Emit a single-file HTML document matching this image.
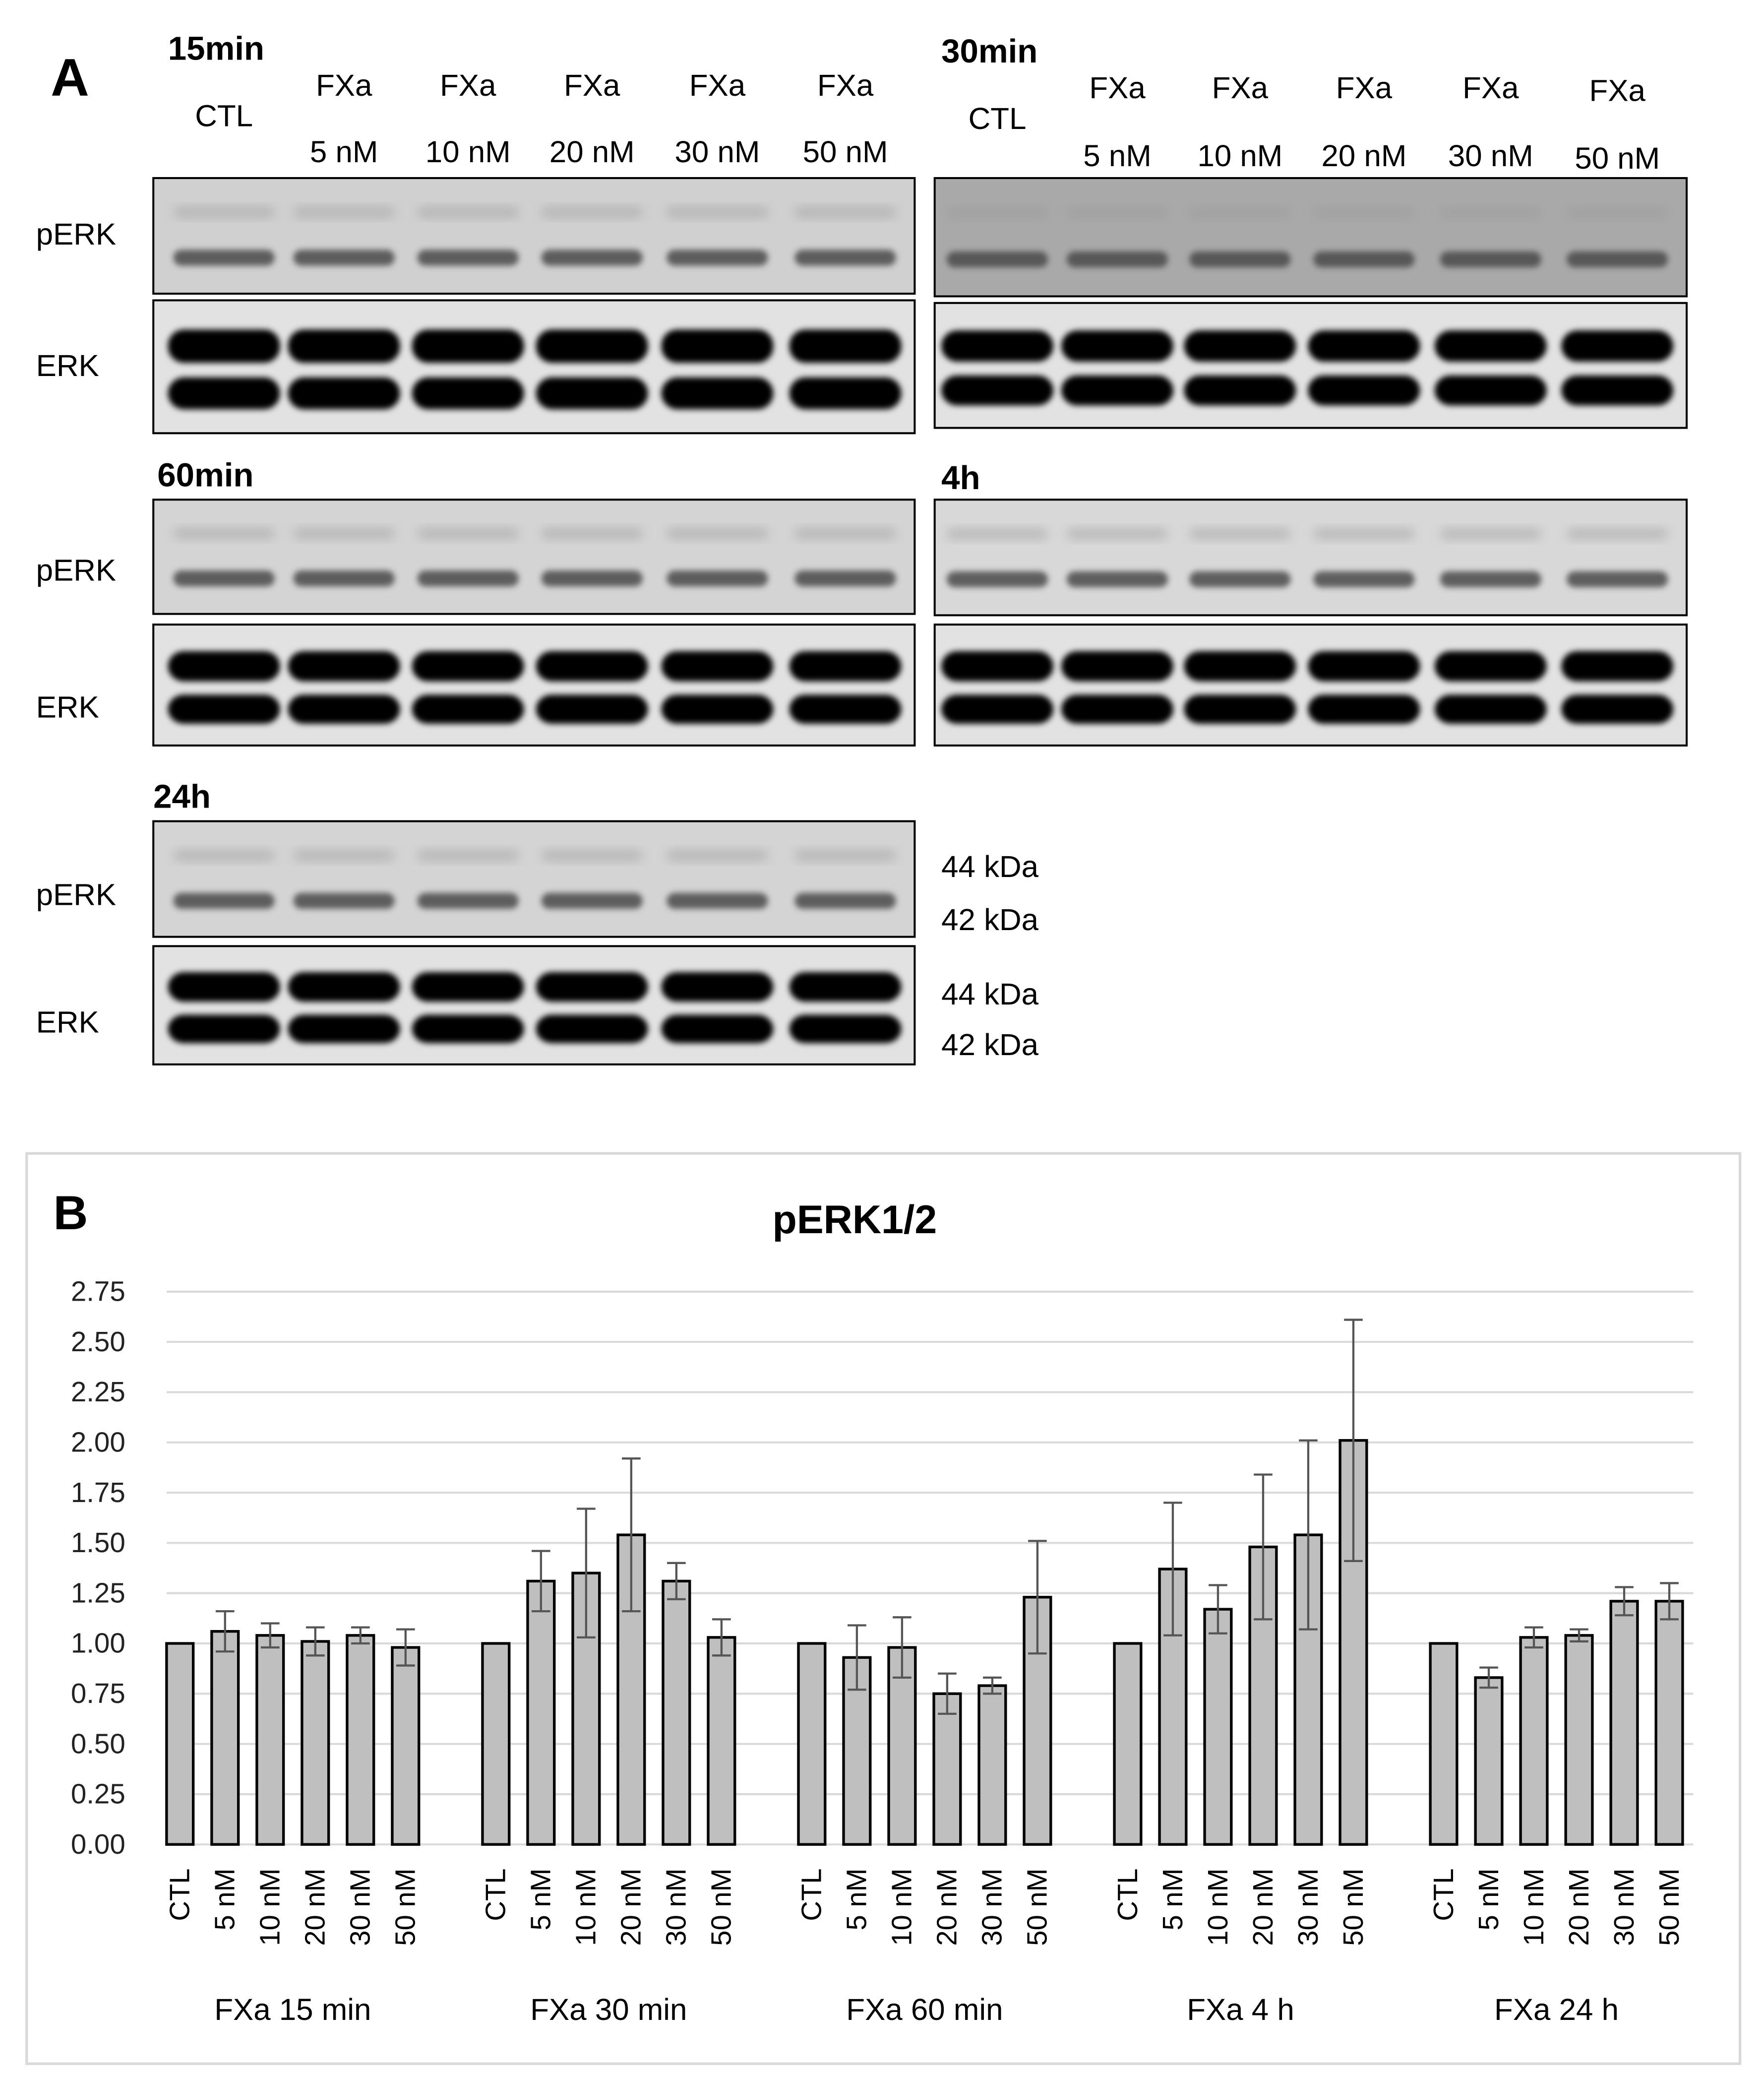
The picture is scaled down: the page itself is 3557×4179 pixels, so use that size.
<!DOCTYPE html>
<html><head><meta charset="utf-8"><style>
html,body{margin:0;padding:0;background:#fff}
svg{display:block}
text{font-family:"Liberation Sans",Arial,sans-serif}
</style></head><body>
<svg id="fig" xmlns="http://www.w3.org/2000/svg" width="3557" height="4179" viewBox="0 0 1323 1560" preserveAspectRatio="none">
<defs>
<filter id="blur" x="-20%" y="-50%" width="140%" height="200%"><feGaussianBlur stdDeviation="2.2"/></filter>
<filter id="blur2" x="-20%" y="-50%" width="140%" height="200%"><feGaussianBlur stdDeviation="4"/></filter>
</defs>
<rect width="1323" height="1560" fill="#fff"/>
<g id="panelA"></g>
<g id="panelB"></g>
</svg>
<script>
// ---- Chart data ----
const groups = ["FXa 15 min","FXa 30 min","FXa 60 min","FXa 4 h","FXa 24 h"];
const conditions = ["CTL","5 nM","10 nM","20 nM","30 nM","50 nM"];
const means15 = [1.00,1.06,1.04,1.01,1.04,0.98];
const means30 = [1.00,1.31,1.35,1.54,1.31,1.03];
const means60 = [1.00,0.93,0.98,0.75,0.79,1.23];
const means4h = [1.00,1.37,1.17,1.48,1.54,2.01];
const means24h = [1.00,0.83,1.03,1.04,1.21,1.21];
const err15 = [0,0.10,0.06,0.07,0.04,0.09];
const err30 = [0,0.15,0.32,0.38,0.09,0.09];
const err60 = [0,0.16,0.15,0.10,0.04,0.28];
const err4h = [0,0.33,0.12,0.36,0.47,0.60];
const err24h = [0,0.05,0.05,0.03,0.07,0.09];
const yTicks = [0,0.25,0.5,0.75,1,1.25,1.5,1.75,2,2.25,2.5,2.75];
const yTickLabels = ["0.00","0.25","0.50","0.75","1.00","1.25","1.50","1.75","2.00","2.25","2.50","2.75"];

const NS="http://www.w3.org/2000/svg";
function mk(tag,attrs,parent,txt){const e=document.createElementNS(NS,tag);for(const k in attrs)e.setAttribute(k,attrs[k]);if(txt!==undefined)e.textContent=txt;parent.appendChild(e);return e;}

// ---- Panel A ----
const A=document.getElementById('panelA');
let t;
t=mk('text',{x:38,y:72,'font-size':40,'font-weight':'bold'},A,'A');



function blot(x0,x1,y0,y1,type,lanes,bg){
  const g=mk('g',{},A);
  
  
  mk('rect',{x:x0,y:y0,width:x1-x0,height:y1-y0,fill:bg},g);
  const h=y1-y0;
  lanes.forEach((cx,i)=>{
    if(type==='p'){
      mk('rect',{x:cx-38,y:y0+h*0.25,width:76,height:8,rx:4,fill:'#999',opacity:0.5,filter:'url(#blur2)'},g);
      mk('rect',{x:cx-38,y:y0+h*0.62,width:76,height:12,rx:6,fill:'#4a4a4a',opacity:0.85,filter:'url(#blur)'},g);
    }else{
      mk('rect',{x:cx-42,y:y0+h*0.22,width:84,height:h*0.25,rx:12,fill:'#000',filter:'url(#blur)'},g);
      mk('rect',{x:cx-42,y:y0+h*0.58,width:84,height:h*0.24,rx:12,fill:'#000',filter:'url(#blur)'},g);
    }
  });
  mk('rect',{x:x0,y:y0,width:x1-x0,height:y1-y0,fill:'none',stroke:'#000','stroke-width':1.5},g);
}
const L=[168,258,351,444,538,634], R=[748,838,930,1023,1118,1213];
blot(115,686,134,221,'p',L,'#d0d0d0');
blot(115,686,226,326,'e',L,'#e2e2e2');
blot(701,1265,134,223,'p',R,'#a9a9a9');
blot(701,1265,228,322,'e',R,'#e2e2e2');
blot(115,686,376,462,'p',L,'#d4d4d4');
blot(115,686,470,561,'e',L,'#e2e2e2');
blot(701,1265,376,463,'p',R,'#d8d8d8');
blot(701,1265,470,561,'e',R,'#e2e2e2');
blot(115,686,618,705,'p',L,'#d4d4d4');
blot(115,686,712,801,'e',L,'#e2e2e2');

function lbl(x,y,s,size,bold,anchor,name){
  const e=mk('text',{x:x,y:y,'font-size':size,'font-weight':bold?'bold':'normal','text-anchor':anchor||'start'},A,s);
  
  
}
lbl(126,45,'15min',25,true,'start','time-label-15min');
lbl(706,47,'30min',25,true,'start','time-label-30min');
lbl(118,366,'60min',25,true,'start','time-label-60min');
lbl(706,368,'4h',25,true,'start','time-label-4h');
lbl(115,608,'24h',25,true,'start','time-label-24h');
lbl(168,95,'CTL',23,false,'middle','lane-label-ctl');
lbl(748,97,'CTL',23,false,'middle','lane-label-ctl');
const conc=["5 nM","10 nM","20 nM","30 nM","50 nM"];
conc.forEach((c,i)=>{
  lbl(L[i+1],72,'FXa',23,false,'middle','lane-label-fxa');
  lbl(L[i+1],122,c,23,false,'middle','lane-label-conc');
  const dy=i===4?2:0;
  lbl(R[i+1],74+dy,'FXa',23,false,'middle','lane-label-fxa');
  lbl(R[i+1],125+dy,c,23,false,'middle','lane-label-conc');
});
[[184,'pERK'],[283,'ERK'],[437,'pERK'],[540,'ERK'],[681,'pERK'],[777,'ERK']].forEach(a=>lbl(27,a[0],a[1],23,false,'start','row-label-'+a[1].toLowerCase()));
[[660,'44 kDa'],[700,'42 kDa'],[756,'44 kDa'],[794,'42 kDa']].forEach(a=>lbl(706,a[0],a[1],23,false,'start','kda-marker'));

// ---- Panel B ----
const B=document.getElementById('panelB');
const frame=mk('rect',{x:20,y:868,width:1285,height:685,fill:'#fff',stroke:'#d9d9d9','stroke-width':2},B);


t=mk('text',{x:40,y:925,'font-size':36,'font-weight':'bold'},B,'B');


t=mk('text',{x:641,y:928,'font-size':30,'font-weight':'bold','text-anchor':'middle'},B,'pERK1/2');



const yMin=0,yMax=2.75,py0=1388,py1=972;
function yS(v){return py0-(v-yMin)/(yMax-yMin)*(py0-py1);}
const slot=33.85, x0=118, perGroup=7;
function xS(g,c){return x0+slot*(g*perGroup+c+0.5);}
yTicks.forEach((v,i)=>{
  const gl=mk('line',{x1:125,x2:1270,y1:yS(v),y2:yS(v),stroke:'#d9d9d9','stroke-width':1.5},B);
  
  
  const tl=mk('text',{x:94,y:yS(v)+7,'font-size':21,'text-anchor':'end',fill:'#222'},B,yTickLabels[i]);
  
  
});
const means=[means15,means30,means60,means4h,means24h];
const errs=[err15,err30,err60,err4h,err24h];
const bw=20;
groups.forEach((gname,g)=>{
  conditions.forEach((c,k)=>{
    const cx=xS(g,k), v=means[g][k], e=errs[g][k];
    const bar=mk('rect',{x:cx-bw/2,y:yS(v),width:bw,height:yS(0)-yS(v),fill:'#bfbfbf',stroke:'#000','stroke-width':2},B);
    
    
    if(e>0){
      const eg=mk('g',{stroke:'#555','stroke-width':1.6},B);
      
      
      mk('line',{x1:cx,x2:cx,y1:yS(v+e),y2:yS(v-e)},eg);
      mk('line',{x1:cx-7,x2:cx+7,y1:yS(v+e),y2:yS(v+e)},eg);
      mk('line',{x1:cx-7,x2:cx+7,y1:yS(v-e),y2:yS(v-e)},eg);
    }
    const tl=mk('text',{x:0,y:0,'font-size':21,'text-anchor':'end',transform:'translate('+(cx+7)+',1406) rotate(-90)'},B,c);
    
    
  });
  const gc=(xS(g,0)+xS(g,5))/2;
  const gl=mk('text',{x:gc,y:1520,'font-size':23,'text-anchor':'middle'},B,gname);
  
  
});
</script>
</body></html>
